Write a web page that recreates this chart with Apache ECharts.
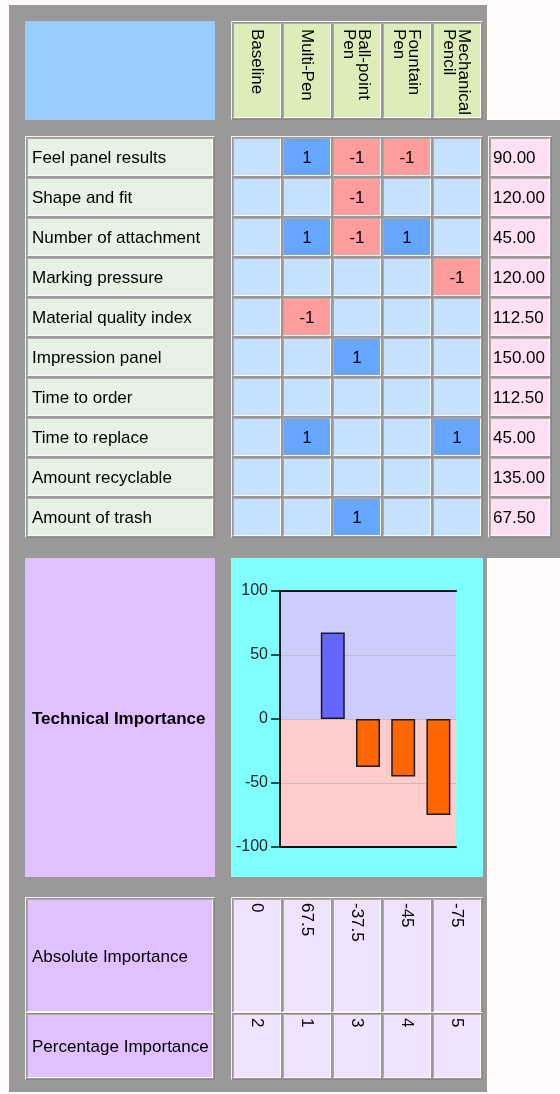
<!DOCTYPE html>
<html><head><meta charset="utf-8">
<script src="https://cdn.jsdelivr.net/npm/echarts@6/dist/echarts.min.js"></script>
<style>html,body{margin:0;padding:0;background:#fffafa}#c{width:560px;height:1094px}</style>
</head><body><div id="c"></div>
<script>
// ---------- data ----------
const concepts = ['Baseline', 'Multi-Pen', 'Ball-point\nPen', 'Fountain\nPen', 'Mechanical\nPencil'];
const requirements = ['Feel panel results', 'Shape and fit', 'Number of attachment', 'Marking pressure',
  'Material quality index', 'Impression panel', 'Time to order', 'Time to replace', 'Amount recyclable', 'Amount of trash'];
const weights = [90, 120, 45, 120, 112.5, 150, 112.5, 45, 135, 67.5];
const relationships = [
  [0, 1, -1, -1, 0],
  [0, 0, -1, 0, 0],
  [0, 1, -1, 1, 0],
  [0, 0, 0, 0, -1],
  [0, -1, 0, 0, 0],
  [0, 0, 1, 0, 0],
  [0, 0, 0, 0, 0],
  [0, 1, 0, 0, 1],
  [0, 0, 0, 0, 0],
  [0, 0, 1, 0, 0]
];
const absoluteImportance = [0, 67.5, -37.5, -45, -75];
const importanceRank = [2, 1, 3, 4, 5];
const summaryLabels = ['Absolute Importance', 'Percentage Importance'];
const chartTitle = 'Technical Importance';

// ---------- layout ----------
const FONT = '"Liberation Sans", Arial, sans-serif';
const FS = 17;
const TY = 1.5; // text baseline nudge
const box = {
  header:  {x: 232, y: 22,   w: 250, h: 97},
  labels:  {x: 26,  y: 137,  w: 188, h: 400},
  matrix:  {x: 232, y: 137,  w: 250, h: 400},
  weights: {x: 489, y: 137,  w: 62,  h: 400},
  absL:    {x: 26,  y: 898,  w: 188, h: 115},
  pctL:    {x: 26,  y: 1013, w: 188, h: 66},
  abs:     {x: 232, y: 898,  w: 250, h: 115},
  pct:     {x: 232, y: 1013, w: 250, h: 66}
};
const C = {
  gray: '#999999', blue: '#99ccff', header: '#ddedba', label: '#e6f2e6',
  empty: '#c6e0ff', pos: '#66a6ff', neg: '#ff9c9c', pink: '#ffe0f2',
  purple: '#e0c0ff', lav: '#efe2ff', cyan: '#80ffff',
  light: '#f6f4f2', dark: '#b0a8a0', outerDark: '#8c8680'
};

function bevel(x, y, w, h, tl, br) {
  return [
    {type: 'polyline', shape: {points: [[x + 0.5, y + h], [x + 0.5, y + 0.5], [x + w, y + 0.5]]}, style: {stroke: tl, lineWidth: 1, fill: 'none'}},
    {type: 'polyline', shape: {points: [[x + w - 0.5, y + 0.5], [x + w - 0.5, y + h - 0.5], [x + 0.5, y + h - 0.5]]}, style: {stroke: br, lineWidth: 1, fill: 'none'}}
  ];
}

const grids = [], xAxes = [], yAxes = [], series = [], graphics = [];

function addTable(b, nx, ny, cellFn) {
  const gi = grids.length;
  grids.push({left: b.x, top: b.y, width: b.w, height: b.h});
  xAxes.push({gridIndex: gi, type: 'category', data: [...Array(nx).keys()], show: false});
  yAxes.push({gridIndex: gi, type: 'category', data: [...Array(ny).keys()], show: false, inverse: true});
  const data = [];
  for (let j = 0; j < ny; j++) for (let i = 0; i < nx; i++) data.push([i, j]);
  graphics.push(...bevel(b.x - 1, b.y - 1, b.w + 2, b.h + 2, C.light, C.outerDark));
  series.push({
    type: 'custom', xAxisIndex: gi, yAxisIndex: gi, data, silent: true, animation: false, z: 2,
    renderItem: (params, api) => {
      const i = api.value(0), j = api.value(1);
      const c = api.coord([i, j]), s = api.size([1, 1]);
      const x = Math.round(c[0] - s[0] / 2) + 1, y = Math.round(c[1] - s[1] / 2) + 1;
      const w = Math.round(s[0]) - 2, h = Math.round(s[1]) - 2;
      const spec = cellFn(i, j);
      const children = [{type: 'rect', shape: {x, y, width: w, height: h}, style: {fill: spec.fill}}];
      children.push(...bevel(x, y, w, h, C.dark, '#fbfaf9'));
      if (spec.text !== '') {
        const st = {text: spec.text, fill: '#000', fontSize: FS, fontFamily: FONT};
        if (spec.mode === 'left') {
          children.push({type: 'text', x: x + spec.pad, y: y + h / 2 + TY, style: Object.assign(st, {align: 'left', verticalAlign: 'middle'})});
        } else if (spec.mode === 'center') {
          children.push({type: 'text', x: x + w / 2, y: y + h / 2 + TY, style: Object.assign(st, {align: 'center', verticalAlign: 'middle'})});
        } else {
          children.push({type: 'text', x: x + w / 2 - 0.5, y: y + spec.pad, rotation: -Math.PI / 2,
            style: Object.assign(st, {align: 'left', verticalAlign: 'middle', lineHeight: 15})});
        }
      }
      return {type: 'group', children};
    }
  });
}

// background panels
graphics.unshift(
  {type: 'rect', shape: {x: 9, y: 5, width: 478, height: 1087}, style: {fill: C.gray}},
  {type: 'rect', shape: {x: 9, y: 120, width: 551, height: 438}, style: {fill: C.gray}},
  {type: 'rect', shape: {x: 25, y: 21, width: 190, height: 99}, style: {fill: C.blue}},
  {type: 'rect', shape: {x: 25, y: 558, width: 190, height: 319}, style: {fill: C.purple}},
  {type: 'rect', shape: {x: 231, y: 558, width: 252, height: 319}, style: {fill: C.cyan}},
  {type: 'text', x: 32, y: 719.5, style: {text: chartTitle, fill: '#000', fontSize: FS, fontWeight: 'bold', fontFamily: FONT, align: 'left', verticalAlign: 'middle'}}
);

addTable(box.header, concepts.length, 1, (i) => ({fill: C.header, text: concepts[i], mode: 'vtop', pad: 6}));
addTable(box.labels, 1, requirements.length, (i, j) => ({fill: C.label, text: requirements[j], mode: 'left', pad: 5}));
addTable(box.matrix, concepts.length, requirements.length, (i, j) => {
  const v = relationships[j][i];
  return {fill: v > 0 ? C.pos : v < 0 ? C.neg : C.empty, text: v ? String(v) : '', mode: 'center'};
});
addTable(box.weights, 1, weights.length, (i, j) => ({fill: C.pink, text: weights[j].toFixed(2), mode: 'left', pad: 3}));
addTable(box.absL, 1, 1, () => ({fill: C.purple, text: summaryLabels[0], mode: 'left', pad: 5}));
addTable(box.pctL, 1, 1, () => ({fill: C.purple, text: summaryLabels[1], mode: 'left', pad: 5}));
addTable(box.abs, concepts.length, 1, (i) => ({fill: C.lav, text: String(absoluteImportance[i]), mode: 'vtop', pad: 4}));
addTable(box.pct, concepts.length, 1, (i) => ({fill: C.lav, text: String(importanceRank[i]), mode: 'vtop', pad: 4}));

// ---------- bar chart ----------
const gc = grids.length;
grids.push({left: 280, top: 591, width: 176, height: 256});
const xb = xAxes.length;
xAxes.push({gridIndex: gc, type: 'category', data: concepts, position: 'bottom',
  axisLine: {onZero: false, lineStyle: {color: '#111', width: 2}}, axisTick: {show: false}, axisLabel: {show: false}, z: 2});
xAxes.push({gridIndex: gc, type: 'category', data: concepts, position: 'top',
  axisLine: {onZero: false, lineStyle: {color: '#111', width: 2}}, axisTick: {show: false}, axisLabel: {show: false}, z: 2});
const yb = yAxes.length;
yAxes.push({gridIndex: gc, type: 'value', min: -100, max: 100, interval: 50, z: 2,
  axisLine: {show: true, lineStyle: {color: '#111', width: 2}},
  axisTick: {show: true, length: 9, lineStyle: {color: '#111', width: 1.5}},
  axisLabel: {fontSize: 16, color: '#222', fontFamily: FONT, margin: 12},
  splitLine: {show: true, lineStyle: {color: '#c0c0c0', width: 1.2}}});

series.push({
  type: 'line', xAxisIndex: xb, yAxisIndex: yb, data: absoluteImportance.map(() => null),
  showSymbol: false, lineStyle: {opacity: 0}, silent: true, animation: false, z: 1,
  markArea: {silent: true, z: 1, itemStyle: {opacity: 1}, data: [
    [{yAxis: 0, itemStyle: {color: '#ccccff'}}, {yAxis: 100}],
    [{yAxis: -100, itemStyle: {color: '#ffcccc'}}, {yAxis: 0}]
  ]}
});
series.push({
  type: 'bar', xAxisIndex: xb, yAxisIndex: yb, barWidth: '68%', z: 3, animation: false,
  data: absoluteImportance.map(v => ({
    value: v,
    itemStyle: {color: v >= 0 ? '#6666ff' : '#ff6600', borderColor: '#1a1a1a', borderWidth: v === 0 ? 0 : 1.5}
  }))
});

const chart = echarts.init(document.getElementById('c'), null, {renderer: 'canvas', width: 560, height: 1094});
chart.setOption({
  backgroundColor: '#fffafa',
  animation: false,
  grid: grids, xAxis: xAxes, yAxis: yAxes, series,
  graphic: {elements: graphics.map(g => Object.assign({silent: true, z: 0}, g))}
});
</script>
</body></html>
